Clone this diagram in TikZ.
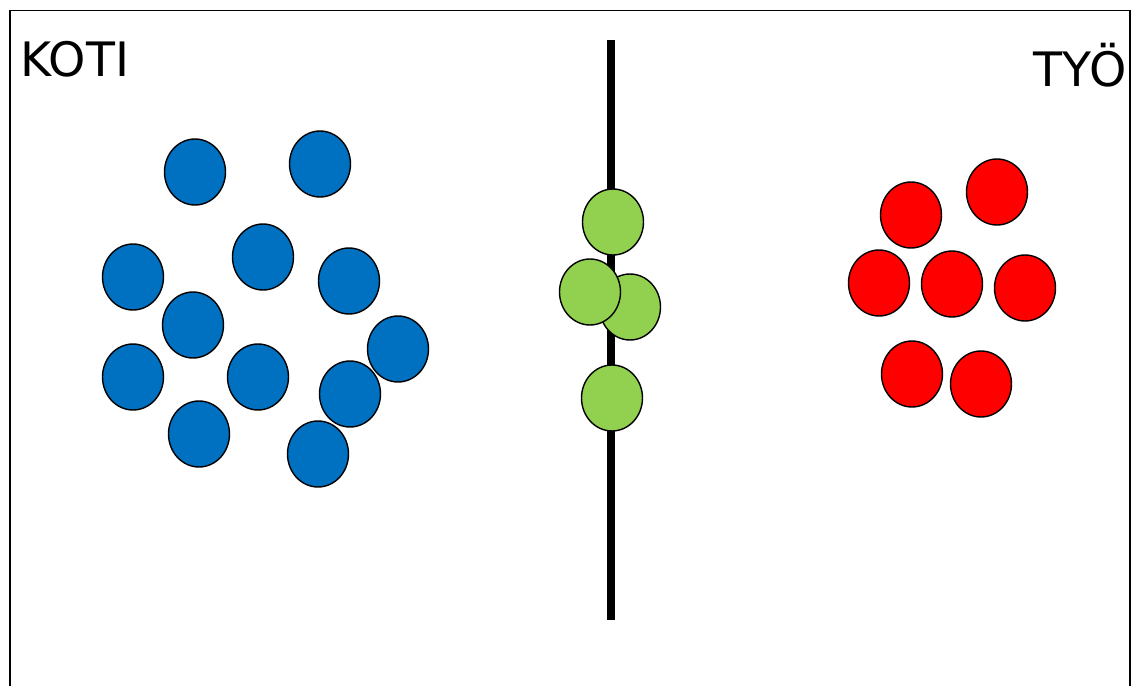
\documentclass[tikz,border=0pt]{standalone}
\usepackage{fontspec}
\setmainfont{DejaVu Sans}
\usetikzlibrary{shapes.geometric}
\definecolor{KotiBlue}{HTML}{0070C0}
\definecolor{RajaGreen}{HTML}{92D050}
\definecolor{TyoRed}{HTML}{FF0000}

\begin{document}
\begin{tikzpicture}[x=0.02cm,y=-0.02cm,
  ball/.style={ellipse,draw=black,line width=0.8pt,minimum width=1.22cm,minimum height=1.32cm,inner sep=0pt},
  kotiball/.style={ball,fill=KotiBlue},
  rajaball/.style={ball,fill=RajaGreen},
  tyoball/.style={ball,fill=TyoRed},
  label/.style={inner sep=0pt,font=\fontsize{27}{30}\selectfont}
]
\useasboundingbox (0,0) rectangle (1134,686);
\draw[line width=1.1pt] (10,686) -- (10,10.5) -- (1130,10.5) -- (1130,686);
\node[label,anchor=base west] (koti) at (20,77) {KOTI};
\node[label,anchor=base east] (tyo) at (1127,87) {TYÖ};
% raja
\coordinate (rajatop) at (611,40);
\coordinate (rajabottom) at (611,620);
\draw[line width=4.8pt] (rajatop) -- (rajabottom);
% koti
\foreach \x/\y [count=\i] in {195/172,320/164,133/277,263/257,349/281,193/325,133/377,258/377,398/349,350/394,199/434,318/454}
  \node[kotiball] (k\i) at (\x,\y) {};
% raja
\foreach \x/\y [count=\i] in {613/222,630/307,590/292,612/398}
  \node[rajaball] (r\i) at (\x,\y) {};
% tyo
\foreach \x/\y [count=\i] in {911/215,997/192,879/283,952/284,1025/288,912/374,981/384}
  \node[tyoball] (t\i) at (\x,\y) {};
\end{tikzpicture}
\end{document}
